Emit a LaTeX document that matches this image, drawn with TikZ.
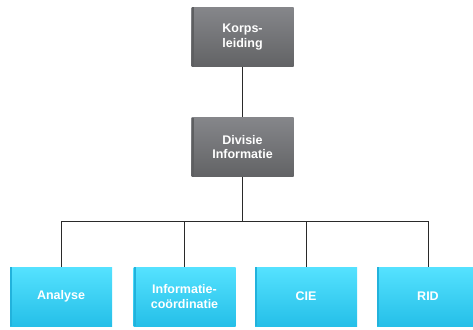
\documentclass[tikz,border=0pt]{standalone}
\usepackage{fontspec}
\setmainfont{Liberation Sans}
\definecolor{greybody}{HTML}{6C6D6F}
\definecolor{greytop}{HTML}{85868A}
\definecolor{greybottom}{HTML}{626365}
\definecolor{greyedge}{HTML}{5E5F61}
\definecolor{cyanbody}{HTML}{2CCEF5}
\definecolor{cyantop}{HTML}{55E2FF}
\definecolor{cyanbottom}{HTML}{25BFE8}
\definecolor{cyanedge}{HTML}{22B2DC}
\definecolor{linkcol}{HTML}{2A2A2A}
\tikzset{
  orgbox/.style={minimum width=102pt, minimum height=59pt, inner sep=2pt,
    align=center, text=white, font=\bfseries\fontsize{12.5}{14.5}\selectfont},
  greybox/.style={orgbox, top color=greytop, middle color=greybody,
    bottom color=greybottom,
    path picture={
      \fill[greyedge] (path picture bounding box.north west) rectangle ([xshift=2pt]path picture bounding box.south west);
    }},
  cyanbox/.style={orgbox, top color=cyantop, middle color=cyanbody,
    bottom color=cyanbottom,
    path picture={
      \fill[cyanedge] (path picture bounding box.north west) rectangle ([xshift=2pt]path picture bounding box.south west);
    }},
  link/.style={draw=linkcol, line width=1pt}
}
\begin{document}
\begin{tikzpicture}[x=1pt, y=-1pt]
  \useasboundingbox (0,0) rectangle (473,329);
  \begin{scope}
  \clip (0,0) rectangle (473,329);
  % management chain
  \node[greybox] (korps) at (242.5,37) {Korps-\\leiding};
  \node[greybox] (divisie) at (242.5,147) {Divisie\\Informatie};
  % departments
  \node[cyanbox] (analyse) at (61,296.5) {Analyse};
  \node[cyanbox] (coord) at (184.5,296.5) {Informatie-\\coördinatie};
  \node[cyanbox] (cie) at (306,296.5) {CIE};
  \node[cyanbox] (rid) at (428,296.5) {RID};
  % connectors
  \coordinate (bus) at (242.5,221);
  \draw[link] (korps.south) -- (divisie.north);
  \draw[link] (divisie.south) -- (divisie.south |- bus);
  \draw[link] (analyse.north) |- (rid.north |- bus) -- (rid.north);
  \foreach \dep in {coord,cie}
    \draw[link] (\dep.north) -- (\dep.north |- bus);
  \end{scope}
\end{tikzpicture}
\end{document}
